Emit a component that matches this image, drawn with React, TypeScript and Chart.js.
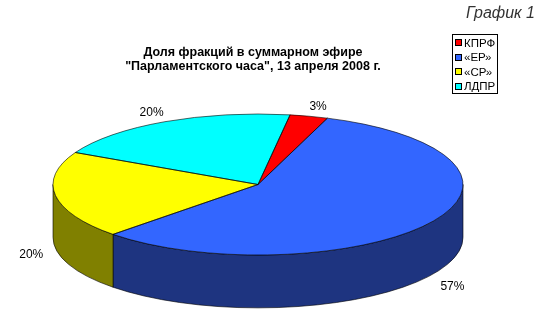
import React, { useEffect, useRef } from "react";
import { Chart, registerables } from "chart.js";

Chart.register(...registerables);

const categories = ["КПРФ", "«ЕР»", "«СР»", "ЛДПР"];
const shares = [3, 57, 20, 20];
const topColors = ["#FF0000", "#3366FF", "#FFFF00", "#00FFFF"];
const sideColors = ["#800000", "#1E3480", "#808000", "#008080"];
const titleLines = [
  "Доля фракций в суммарном эфире",
  "\"Парламентского часа\", 13 апреля 2008 г.",
];
const figureLabel = "График 1";

const FONT = 'Arial, "Liberation Sans", sans-serif';

export default function App() {
  const ref = useRef<HTMLCanvasElement>(null);

  useEffect(() => {
    const canvas = ref.current!;
    const depthRatio = 0.75;

    const geom = (chart: any) => {
      const meta = chart.getDatasetMeta(0);
      const a = chart.chartArea;
      const arc0 = meta.data[0] as any;
      const cx = arc0.x;
      const cy = arc0.y;
      const rx = (a.right - a.left) / 2;
      const ry = arc0.outerRadius;
      return { cx, cy, rx, ry, depth: ((a.bottom - a.top) / 2) * depthRatio, meta };
    };

    const pie3d = {
      id: "pie3d",
      beforeDatasetsDraw(chart: any) {
        const ctx = chart.ctx as CanvasRenderingContext2D;
        const g = geom(chart);
        ctx.save();
        ctx.lineWidth = 0.8;
        ctx.strokeStyle = "rgba(0,0,0,0.75)";
        g.meta.data.forEach((arc: any, i: number) => {
          const s = arc.startAngle;
          const e = arc.endAngle;
          for (let k = -2; k <= 2; k++) {
            const lo = Math.max(s, k * 2 * Math.PI);
            const hi = Math.min(e, k * 2 * Math.PI + Math.PI);
            if (hi > lo) {
              ctx.beginPath();
              ctx.ellipse(g.cx, g.cy, g.rx, g.ry, 0, lo, hi, false);
              ctx.ellipse(g.cx, g.cy + g.depth, g.rx, g.ry, 0, hi, lo, true);
              ctx.closePath();
              ctx.fillStyle = sideColors[i];
              ctx.fill();
              ctx.stroke();
            }
          }
        });
        ctx.restore();
        ctx.save();
        const R = g.ry;
        ctx.translate(g.cx, g.cy);
        ctx.scale(g.rx / R, 1);
        ctx.translate(-g.cx, -g.cy);
      },
      afterDatasetsDraw(chart: any) {
        const ctx = chart.ctx as CanvasRenderingContext2D;
        ctx.restore();
        const g = geom(chart);
        ctx.save();
        ctx.lineWidth = 0.8;
        ctx.strokeStyle = "rgba(0,0,0,0.75)";
        g.meta.data.forEach((arc: any) => {
          ctx.beginPath();
          ctx.moveTo(g.cx, g.cy);
          ctx.ellipse(g.cx, g.cy, g.rx, g.ry, 0, arc.startAngle, arc.endAngle, false);
          ctx.closePath();
          ctx.stroke();
        });
        // percentage labels
        const total = shares.reduce((a, b) => a + b, 0);
        ctx.fillStyle = "#000";
        ctx.font = `12px ${FONT}`;
        ctx.textAlign = "center";
        ctx.textBaseline = "middle";
        g.meta.data.forEach((arc: any, i: number) => {
          const mid = (arc.startAngle + arc.endAngle) / 2;
          const c = Math.cos(mid);
          const s = Math.sin(mid);
          const px = g.cx + g.rx * c * 1.1 + Math.sign(c) * 4;
          const py = g.cy + g.ry * s * 1.2 + (s > 0 ? g.depth : 0) + 4;
          ctx.fillText(Math.round((shares[i] / total) * 100) + "%", px, py);
        });
        ctx.restore();
      },
      afterDraw(chart: any) {
        const ctx = chart.ctx as CanvasRenderingContext2D;
        ctx.save();
        // title
        ctx.fillStyle = "#000";
        ctx.font = `bold 12.5px ${FONT}`;
        ctx.textAlign = "center";
        ctx.textBaseline = "middle";
        titleLines.forEach((t, i) => ctx.fillText(t, 253, 53 + i * 14));
        // figure label
        ctx.font = `italic 16px ${FONT}`;
        ctx.fillStyle = "#333";
        ctx.textAlign = "right";
        ctx.fillText(figureLabel, 535, 14);
        // legend
        ctx.strokeStyle = "#000";
        ctx.lineWidth = 1;
        ctx.strokeRect(452.5, 34.5, 45, 59);
        ctx.font = `11.5px ${FONT}`;
        ctx.textAlign = "left";
        ctx.fillStyle = "#000";
        categories.forEach((name, i) => {
          const y = 43 + i * 14.6;
          ctx.fillStyle = topColors[i];
          ctx.fillRect(455.5, Math.round(y) - 3.5, 6, 6);
          ctx.strokeRect(455.5, Math.round(y) - 3.5, 6, 6);
          ctx.fillStyle = "#000";
          ctx.fillText(name, 464, y + 0.5);
        });
        ctx.restore();
      },
    };

    const chart = new Chart(canvas, {
      type: "pie",
      data: {
        labels: categories,
        datasets: [
          {
            data: shares,
            backgroundColor: topColors,
            borderWidth: 0,
            clip: false as any,
          },
        ],
      },
      options: {
        responsive: false,
        animation: false,
        events: [],
        rotation: 9,
        layout: { padding: { left: 53, right: 87, top: 114, bottom: 68 } },
        plugins: {
          legend: { display: false },
          title: { display: false },
          tooltip: { enabled: false },
        },
      },
      plugins: [pie3d],
    });
    return () => chart.destroy();
  }, []);

  return (
    <div style={{ position: "absolute", left: 0, top: 0, width: 550, height: 323, background: "#fff" }}>
      <canvas ref={ref} width={550} height={323} style={{ display: "block" }} />
    </div>
  );
}
